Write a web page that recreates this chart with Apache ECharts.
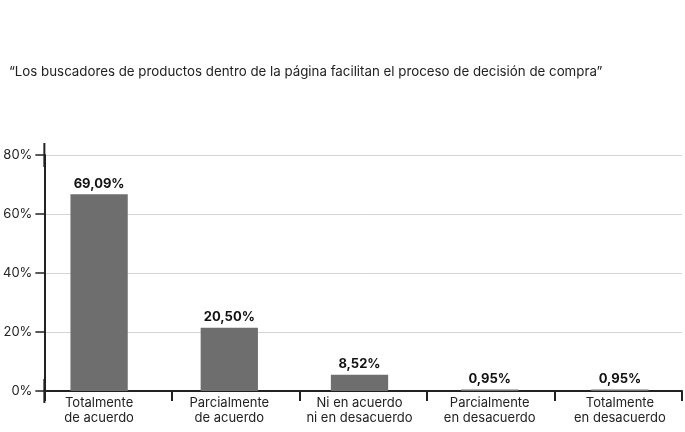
<!DOCTYPE html>
<html lang="es">
<head>
  <meta charset="UTF-8">
  <script src="https://cdn.jsdelivr.net/npm/echarts@6/dist/echarts.min.js"></script>
  <title>Buscadores de productos</title>
  <style>
    html, body { margin: 0; padding: 0; background: #fff; }
    #chart { width: 685px; height: 432px; }
  </style>
</head>
<body>
  <div id="chart"></div>
  <script>
    // categorías del eje x
    const categorias = [
      'Totalmente\nde acuerdo',
      'Parcialmente\nde acuerdo',
      'Ni en acuerdo\nni en desacuerdo',
      'Parcialmente\nen desacuerdo',
      'Totalmente\nen desacuerdo'
    ];
    // altura de las barras tal como se ve en la imagen
    const valores = [66.7, 21.4, 5.5, 0.5, 0.5];
    // etiquetas impresas sobre cada barra
    const etiquetas = ['69,09%', '20,50%', '8,52%', '0,95%', '0,95%'];
    const ticksY = [0, 20, 40, 60, 80];

    const fuente = 'Inter';
    const chart = echarts.init(document.getElementById('chart'));

    chart.setOption({
      animation: false,
      title: {
        text: '\u201cLos buscadores de productos dentro de la página facilitan el proceso de decisión de compra\u201d',
        left: 4,
        top: 60,
        textStyle: { fontFamily: fuente, fontSize: 13.3, fontWeight: 'normal', color: '#222' }
      },
      // grid 0: ejes y rejilla; grid 1: barras y textos (en el original están algo desplazados)
      grid: [
        { left: 44, right: 3, top: 155, bottom: 41 },
        { left: 34, width: 655, top: 155, bottom: 41 }
      ],
      xAxis: [{
        type: 'category',
        gridIndex: 0,
        data: categorias,
        axisLine: { lineStyle: { color: '#222', width: 2 } },
        axisTick: { show: true, length: 10, alignWithLabel: false, lineStyle: { color: '#222', width: 2 } },
        axisLabel: { show: false }
      }, {
        type: 'category',
        gridIndex: 1,
        data: categorias,
        axisLine: { show: false },
        axisTick: { show: false },
        axisLabel: { fontFamily: fuente, fontSize: 13, color: '#222', margin: 5, lineHeight: 15, interval: 0 }
      }],
      yAxis: [{
        type: 'value',
        gridIndex: 0,
        min: ticksY[0],
        max: ticksY[ticksY.length - 1],
        interval: 20,
        axisLine: {
          show: true,
          lineStyle: { color: '#222', width: 2 },
          symbol: ['rect', 'rect'],
          symbolSize: [2, 24]
        },
        axisTick: { show: true, length: 9, lineStyle: { color: '#222', width: 1.5 } },
        axisLabel: { fontFamily: fuente, fontSize: 13, color: '#222', margin: 12, formatter: '{value}%' },
        splitLine: { lineStyle: { color: '#d4d4d4', width: 1 } }
      }, {
        type: 'value',
        gridIndex: 1,
        min: ticksY[0],
        max: ticksY[ticksY.length - 1],
        interval: 20,
        show: false,
        splitLine: { show: false }
      }],
      series: [{
        type: 'bar',
        xAxisIndex: 1,
        yAxisIndex: 1,
        data: valores,
        barWidth: '44%',
        itemStyle: { color: '#6e6e6e' },
        label: {
          show: true,
          position: 'top',
          distance: 4,
          fontFamily: fuente,
          fontSize: 13,
          fontWeight: 'bold',
          color: '#111',
          formatter: p => etiquetas[p.dataIndex]
        }
      }]
    });
  </script>
</body>
</html>
